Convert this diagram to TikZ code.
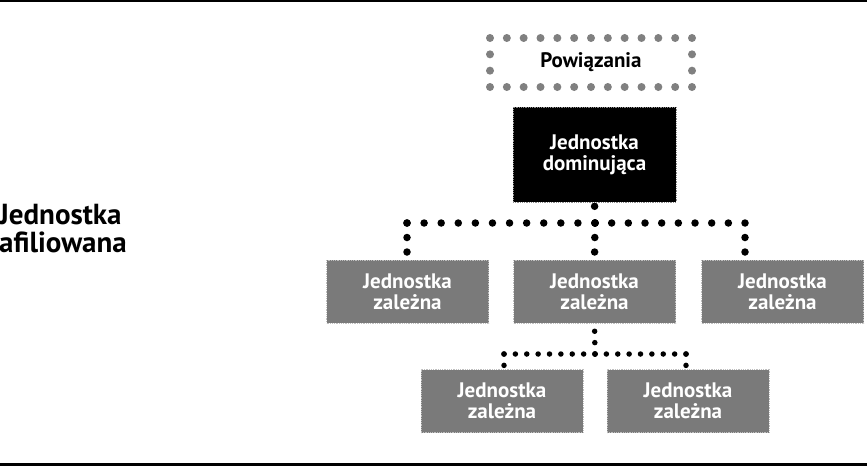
\documentclass[tikz,border=0pt]{standalone}
\usepackage{fontspec}
\setmainfont{PT Sans}
\begin{document}
\begin{tikzpicture}[x=1pt,y=-1pt,
  boxfont/.style={font=\bfseries\fontsize{21}{21}\selectfont},
  sub/.style={boxfont, fill=black!52, draw=black!25, densely dotted, line width=0.8pt, minimum width=162pt, minimum height=63pt, inner sep=0pt, text=white, align=center},
  dom/.style={boxfont, fill=black, draw=black!45, densely dotted, line width=0.8pt, minimum width=163pt, minimum height=95pt, inner sep=0pt, text=white, align=center},
  pow/.style={boxfont, minimum width=202pt, minimum height=49pt, inner sep=0pt, align=center},
  bigdot/.style={line width=7.5pt, line cap=round, dash pattern=on 0pt off #1},
  smalldot/.style={line width=5.5pt, line cap=round, dash pattern=on 0pt off 11.375pt},
]
\useasboundingbox (0,0) rectangle (867,466);
\fill[white] (0,0) rectangle (867,466);
\draw[line width=1.5pt] (0,0.75) -- (867,0.75);
\fill[black] (0,462.5) rectangle (867,466);

% left label
\node[anchor=west, align=left, inner sep=0pt, font=\bfseries\fontsize{29}{28}\selectfont] (aff) at (-1,229) {Jednostka\\afiliowana};

% Powiazania
\node[pow] (p) at (591,62.5) {Powiązania};
\foreach \i in {0,...,12} {
  \fill[black!50] (490+\i*16.833,38) circle (4pt);
  \fill[black!50] (490+\i*16.833,87) circle (4pt);
}
\foreach \j in {1,2} {
  \fill[black!50] (490,38+\j*16.333) circle (4pt);
  \fill[black!50] (692,38+\j*16.333) circle (4pt);
}

\node[dom] (d) at (594.5,154.5) {Jednostka\\dominująca};

\node[sub] (s1) at (407.5,291.5) {Jednostka\\zależna};
\node[sub] (s2) at (594.5,291.5) {Jednostka\\zależna};
\node[sub] (s3) at (782.5,291.5) {Jednostka\\zależna};
\node[sub] (s4) at (502,401) {Jednostka\\zależna};
\node[sub] (s5) at (688,401) {Jednostka\\zależna};

% top connector
\coordinate (j) at (595,223);
\coordinate (jl) at (407,223);
\coordinate (jr) at (745,223);
\draw[bigdot=16.7pt] (j) -- (d.south);
\draw[bigdot=17.09pt] (j) -- (jl);
\draw[bigdot=16.67pt] (j) -- (jr);
\draw[bigdot=14.5pt] (jl) -- (s1.north -| jl);
\draw[bigdot=14.5pt] (j) -- (s2.north);
\draw[bigdot=14.5pt] (jr) -- (s3.north -| jr);

% bottom connector
\coordinate (k) at (595,354);
\coordinate (kl) at (504,354);
\coordinate (kr) at (686,354);
\draw[smalldot] (k) -- (s2.south);
\draw[smalldot] (k) -- (kl);
\draw[smalldot] (k) -- (kr);
\draw[smalldot] (kl) -- (s4.north -| kl);
\draw[smalldot] (kr) -- (s5.north -| kr);
\end{tikzpicture}
\end{document}
